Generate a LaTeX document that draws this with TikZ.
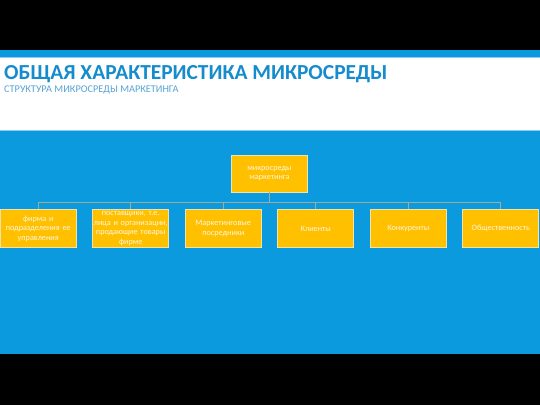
\documentclass[tikz,border=0pt]{standalone}
\usepackage{fontspec}
\setmainfont{Carlito}

\definecolor{slideblue}{RGB}{12,154,222}
\definecolor{stripline}{RGB}{140,205,238}
\definecolor{titleblue}{RGB}{22,140,205}
\definecolor{subblue}{RGB}{85,163,215}
\definecolor{boxorange}{RGB}{255,192,0}
\definecolor{boxedge}{RGB}{240,228,170}
\definecolor{boxtext}{RGB}{255,246,222}
\definecolor{linkgray}{RGB}{158,172,156}

\begin{document}
\begin{tikzpicture}[x=1pt,y=1pt]
   \tikzstyle{level 1}=[sibling distance=92.5pt, level distance=55pt]
   \tikzstyle{unit}=[draw=boxedge, line width=0.7pt, fill=boxorange, text=boxtext, font=\fontsize{8.2}{9.6}\selectfont, align=center, text width=74pt, minimum height=38pt, inner sep=1pt]

\useasboundingbox (0,0) rectangle (540,-405);
% slide background
\fill[black] (0,0) rectangle (540,-405);
\fill[slideblue] (0,-50) rectangle (540,-56.5);
\fill[stripline] (0,-56.5) rectangle (540,-57.5);
\fill[white] (0,-57.5) rectangle (540,-129.5);
\fill[stripline] (0,-129.5) rectangle (540,-130.5);
\fill[slideblue] (0,-130.5) rectangle (540,-354);

\node[anchor=base west, inner sep=0, text=titleblue, font=\bfseries\fontsize{21.4}{24}\selectfont] (title) at (4,-79) {ОБЩАЯ ХАРАКТЕРИСТИКА МИКРОСРЕДЫ};
\node[anchor=base west, inner sep=0, text=subblue, font=\fontsize{10.3}{12}\selectfont] (subtitle) at (4,-92) {СТРУКТУРА МИКРОСРЕДЫ МАРКЕТИНГА};

\node[unit, minimum height=37pt] (root) at (269.5,-173.5) {микросреды\\маркетинга}
    [edge from parent/.style={draw=linkgray, line width=0.9pt},
     edge from parent path={(\tikzparentnode.south) -- ++(0,-10pt) -| (\tikzchildnode.north)}]
    child {node[unit] (firm) {фирма и\\подразделения ее\\управления}}
    child {node[unit] (suppliers) {поставщики, т.е.\\лица и организации,\\продающие товары\\фирме}}
    child {node[unit] (agents) {Маркетинговые\\посредники}}
    child {node[unit] (clients) {Клиенты}}
    child {node[unit] (rivals) {Конкуренты}}
    child {node[unit] (public) {Общественность}};

\end{tikzpicture}
\end{document}
